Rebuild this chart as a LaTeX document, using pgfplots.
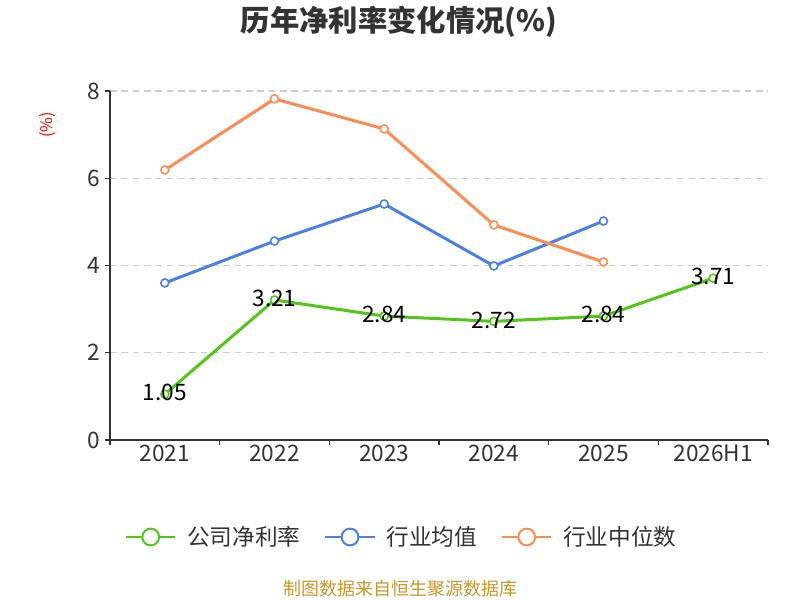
\documentclass[border=0pt]{standalone}
\usepackage{fontspec}
\setmainfont{Noto Sans CJK SC}
\usepackage{pgfplots}
\pgfplotsset{compat=1.18}
\definecolor{cgreen}{HTML}{52C41A}
\definecolor{cblue}{HTML}{4C80E2}
\definecolor{corange}{HTML}{FF8C55}
\definecolor{cdark}{HTML}{333333}
\definecolor{cgrid}{HTML}{CCCCCC}
\definecolor{csrc}{HTML}{C9962B}
\begin{document}
\begin{tikzpicture}[x=1pt,y=1pt]
\path[use as bounding box] (0,0) rectangle (600,450);
\node[font=\fontsize{22}{22}\selectfont\bfseries, text=cdark] at (299.25,433.5) {历年净利率变化情况(\%)};
\node[font=\fontsize{12}{12}\selectfont, text=red, rotate=90] at (36,356.25) {(\%)};
\node[font=\fontsize{13.5}{13.5}\selectfont, text=csrc] at (300,8.25) {制图数据来自恒生聚源数据库};
\begin{axis}[
  at={(82.5pt,120pt)}, anchor=south west,
  scale only axis, width=493.5pt, height=261.75pt,
  xmin=-0.5, xmax=5.5, ymin=0, ymax=8,
  axis x line=bottom, axis y line=left,
  axis line style={draw=cdark, line width=1pt, -},
  xtick={-0.5,0.5,...,5.5}, xticklabels={},
  extra x ticks={0,1,2,3,4,5},
  extra x tick labels={2021,2022,2023,2024,2025,2026H1},
  extra x tick style={major tick length=0pt},
  ytick={0,2,4,6,8},
  tick align=outside, major tick length=3.75pt,
  tick style={draw=cdark, line width=1pt},
  ymajorgrids, xmajorgrids=false,
  grid style={draw=cgrid, line width=1pt, dash pattern=on 5pt off 3.5pt},
  ticklabel style={font=\fontsize{17}{17}\selectfont, text=cdark},
  /pgf/number format/assume math mode=true,
  legend image code/.code={
    \draw[line width=1.5pt] (0pt,0pt) -- (37pt,0pt);
    \draw[line width=1.5pt,fill=white] (18.5pt,0pt) circle (6.3pt);
  },
  legend style={at={(axis description cs:0.4438,-0.278)}, anchor=center,
    draw=none, fill=none, font=\fontsize{17}{17}\selectfont, text=cdark,
    /tikz/every odd column/.append style={column sep=6pt},
    /tikz/every even column/.append style={column sep=16pt}},
  legend columns=3,
  clip=false,
]
\addplot[cgreen, line width=2.25pt, mark=*, mark size=3pt,
  mark options={fill=white, line width=1.2pt},
  point meta=explicit symbolic,
  nodes near coords,
  nodes near coords style={anchor=center, text=black, font=\fontsize{17}{17}\selectfont, yshift=1pt}]
  coordinates {(0,1.05)[1.05] (1,3.21)[3.21] (2,2.84)[2.84] (3,2.72)[2.72] (4,2.84)[2.84] (5,3.71)[3.71]};
\addlegendentry{公司净利率}
\addplot[cblue, line width=2.25pt, mark=*, mark size=3pt,
  mark options={fill=white, line width=1.2pt}]
  coordinates {(0,3.60) (1,4.56) (2,5.41) (3,3.99) (4,5.02)};
\addlegendentry{行业均值}
\addplot[corange, line width=2.25pt, mark=*, mark size=3pt,
  mark options={fill=white, line width=1.2pt}]
  coordinates {(0,6.19) (1,7.82) (2,7.13) (3,4.93) (4,4.08)};
\addlegendentry{行业中位数}
\end{axis}
\end{tikzpicture}
\end{document}
